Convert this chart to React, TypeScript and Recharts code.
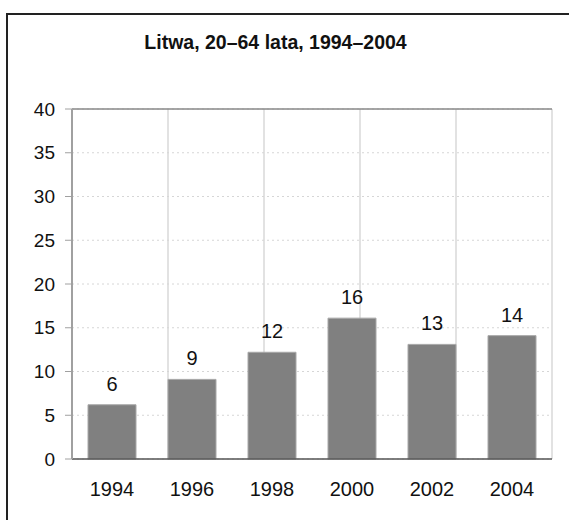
import { Bar, BarChart, CartesianGrid, LabelList, ReferenceLine, XAxis, YAxis } from 'recharts'

const years = ['1994', '1996', '1998', '2000', '2002', '2004']
const values = [6.2, 9.1, 12.2, 16.1, 13.1, 14.1]
const yTicks = [0, 5, 10, 15, 20, 25, 30, 35, 40]
const boundaryTicks = [0, 1, 2, 3, 4, 5, 6]

const FONT = '"Liberation Sans", Arial, sans-serif'

export default function App() {
  const data = years.map((year, i) => ({ year, value: values[i] }))

  return (
    <div
      style={{
        position: 'absolute',
        left: 0,
        top: 0,
        width: 569,
        height: 520,
        overflow: 'hidden',
        background: '#fff',
        fontFamily: FONT,
      }}
    >
      <div
        style={{
          position: 'absolute',
          left: 6,
          top: 13,
          width: 640,
          height: 600,
          border: '2px solid #222',
        }}
      />
      <div
        style={{
          position: 'absolute',
          left: 0,
          top: 31.5,
          width: 551,
          textAlign: 'center',
          fontSize: 19.5,
          lineHeight: '20px',
          fontWeight: 'bold',
          color: '#111',
        }}
      >
        Litwa, 20–64 lata, 1994–2004
      </div>
      <div style={{ position: 'absolute', left: 0, top: 0 }}>
        <BarChart
          width={569}
          height={520}
          data={data}
          margin={{ top: 109, right: 17, left: 0, bottom: 21 }}
          barCategoryGap="20%"
        >
          <CartesianGrid
            xAxisId="grid"
            horizontal={false}
            vertical={true}
            stroke="#e2e2e2"
            strokeWidth={2}
          />
          <CartesianGrid
            vertical={false}
            horizontal={true}
            stroke="#d6d6d6"
            strokeDasharray="2 3"
          />
          <XAxis
            xAxisId="grid"
            type="number"
            domain={[0, 6]}
            ticks={boundaryTicks}
            axisLine={false}
            tickLine={{ stroke: '#888', strokeWidth: 1.5 }}
            tickSize={7}
            tickFormatter={() => ''}
            height={0}
          />
          <XAxis
            xAxisId="cat"
            dataKey="year"
            axisLine={{ stroke: '#555', strokeWidth: 1.5 }}
            tickLine={false}
            tickSize={0}
            tickMargin={23}
            height={40}
            tick={{ fill: '#111', fontSize: 20, fontFamily: FONT }}
          />
          <YAxis
            domain={[0, 40]}
            ticks={yTicks}
            width={72}
            axisLine={{ stroke: '#a0a0a0', strokeWidth: 2 }}
            tickLine={{ stroke: '#a0a0a0' }}
            tickSize={7}
            tickMargin={10}
            tick={{ fill: '#111', fontSize: 19, fontFamily: FONT }}
          />
          <ReferenceLine y={40} stroke="#888" strokeWidth={1.5} />
          <ReferenceLine xAxisId="grid" x={6} stroke="#aaa" strokeWidth={2} />
          <Bar
            xAxisId="cat"
            dataKey="value"
            fill="#808080"
            stroke="#a8a8a8"
            strokeWidth={1}
            isAnimationActive={false}
          >
            <LabelList
              dataKey="value"
              position="top"
              offset={14}
              formatter={(v: any) => Math.round(Number(v))}
              style={{ fill: '#111', fontSize: 20, fontFamily: FONT }}
            />
          </Bar>
        </BarChart>
      </div>
    </div>
  )
}
